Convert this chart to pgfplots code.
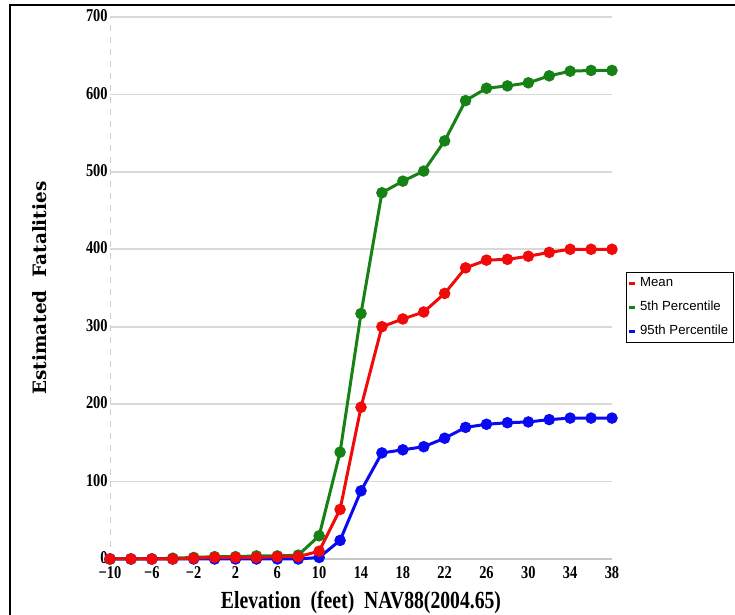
\documentclass[border=0pt]{standalone}
\usepackage{pgfplots}
\pgfplotsset{compat=1.18}
\usepackage{fontspec}
\setmainfont{Liberation Serif}
\newfontfamily\condfont[FakeStretch=0.8]{Liberation Serif}
\newfontfamily\ylabfont{DejaVu Serif}
\newfontfamily\legfont{Liberation Sans}
\definecolor{cgreen}{RGB}{22,130,22}
\definecolor{cred}{RGB}{240,10,10}
\definecolor{cblue}{RGB}{10,10,240}
\begin{document}
\begin{tikzpicture}
\path[use as bounding box] (0,0) rectangle (367.5pt,307.5pt);
\draw[line width=1pt] (5pt,0) -- (5pt,305pt) -- (367.5pt,305pt);
\begin{axis}[
  at={(55pt,28pt)}, anchor=south west,
  scale only axis, width=251pt, height=271pt,
  xmin=-10, xmax=38, ymin=0, ymax=700,
  xtick={-10,-6,...,38},
  xticklabels={−10,−6,−2,2,6,10,14,18,22,26,30,34,38},
  ytick={0,100,...,700},
  yticklabels={0,100,200,300,400,500,600,700},
  major tick length=0pt,
  axis x line*=bottom, axis y line*=left,
  x axis line style={draw=gray!45, line width=0.8pt, -},
  y axis line style={draw=gray!40, dashed, line width=0.5pt, -},
  ymajorgrids, grid style={draw=gray!30, line width=0.9pt},
  ticklabel style={font=\condfont\bfseries\fontsize{9}{9}\selectfont},
  yticklabel style={inner sep=1pt, yshift=0.6pt},
  xticklabel style={inner sep=3.6pt},
  xlabel={Elevation\ \ (feet)\ \ NAV88(2004.65)},
  ylabel={Estimated\ \ Fatalities},
  every axis x label/.style={at={(rel axis cs:0.5,0)}, yshift=-25pt, anchor=base,
     font=\condfont\bfseries\fontsize{12.3}{12.3}\selectfont},
  every axis y label/.style={at={(rel axis cs:0,0.5)}, xshift=-35pt, rotate=90, anchor=center,
     font=\ylabfont\bfseries\fontsize{9.2}{9.2}\selectfont},
  clip=false,
  legend style={at={(rel axis cs:1.028,0.5295)}, anchor=north west,
     font=\legfont\fontsize{6.6}{8}\selectfont, draw=black, line width=0.5pt,
     inner sep=0.5pt, row sep=1.8pt, cells={anchor=west, inner xsep=0.5pt}},
  legend cell align=left,
  legend image code/.code={\draw[#1, line width=1.5pt] (0pt,0pt) -- (2.8pt,0pt);},
]
\addlegendimage{cred}
\addlegendentry{Mean}
\addlegendimage{cgreen}
\addlegendentry{5th Percentile}
\addlegendimage{cblue}
\addlegendentry{95th Percentile}

\addplot[forget plot, color=cgreen, line width=1.5pt, mark=*, mark size=2.1pt] coordinates {
(-10,0) (-8,0) (-6,0) (-4,1) (-2,2) (0,3) (2,3) (4,4) (6,4) (8,5)
(10,30) (12,138) (14,317) (16,473) (18,488) (20,501) (22,540) (24,592)
(26,608) (28,611) (30,615) (32,624) (34,630) (36,631) (38,631)};
\addplot[forget plot, color=cblue, line width=1.5pt, mark=*, mark size=2.1pt] coordinates {
(-10,0) (-8,0) (-6,0) (-4,0) (-2,0) (0,0) (2,0) (4,0) (6,0) (8,0)
(10,2) (12,24) (14,88) (16,137) (18,141) (20,145) (22,156) (24,170)
(26,174) (28,176) (30,177) (32,180) (34,182) (36,182) (38,182)};
\addplot[forget plot, color=cred, line width=1.5pt, mark=*, mark size=2.1pt] coordinates {
(-10,0) (-8,0) (-6,0) (-4,0) (-2,1) (0,2) (2,2) (4,2) (6,3) (8,3)
(10,10) (12,64) (14,196) (16,300) (18,310) (20,319) (22,343) (24,376)
(26,386) (28,387) (30,391) (32,396) (34,400) (36,400) (38,400)};
\end{axis}
\end{tikzpicture}
\end{document}
